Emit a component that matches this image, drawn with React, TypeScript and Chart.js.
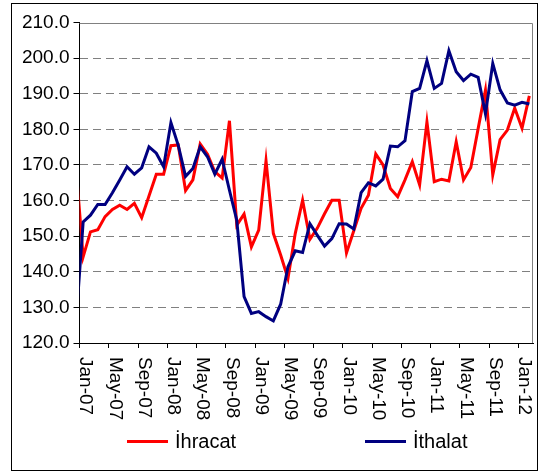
import React, { useEffect, useRef } from 'react';
import { Chart, registerables } from 'chart.js';

Chart.register(...registerables);

// Monthly categories (Dec-06 is only partly visible at the left edge)
const months = [
  'Dec-06',
  'Jan-07', 'Feb-07', 'Mar-07', 'Apr-07', 'May-07', 'Jun-07', 'Jul-07', 'Aug-07', 'Sep-07', 'Oct-07', 'Nov-07', 'Dec-07',
  'Jan-08', 'Feb-08', 'Mar-08', 'Apr-08', 'May-08', 'Jun-08', 'Jul-08', 'Aug-08', 'Sep-08', 'Oct-08', 'Nov-08', 'Dec-08',
  'Jan-09', 'Feb-09', 'Mar-09', 'Apr-09', 'May-09', 'Jun-09', 'Jul-09', 'Aug-09', 'Sep-09', 'Oct-09', 'Nov-09', 'Dec-09',
  'Jan-10', 'Feb-10', 'Mar-10', 'Apr-10', 'May-10', 'Jun-10', 'Jul-10', 'Aug-10', 'Sep-10', 'Oct-10', 'Nov-10', 'Dec-10',
  'Jan-11', 'Feb-11', 'Mar-11', 'Apr-11', 'May-11', 'Jun-11', 'Jul-11', 'Aug-11', 'Sep-11', 'Oct-11', 'Nov-11', 'Dec-11',
  'Jan-12', 'Feb-12',
];

const ihracat = [
  170,
  144.2, 151.2, 151.8, 155.5, 157.5, 158.7, 157.5, 159.2, 155.2, 161.3, 167.4, 167.4,
  175.4, 175.6, 162.8, 165.8, 175.9, 173.0, 168.1, 166.3, 182.4, 153.1, 156.2, 147.0,
  151.7, 171.2, 150.8, 144.7, 138.1, 150.8, 160.1, 149.1, 152.2, 156.3, 160.1, 160.1,
  145.3, 151.5, 157.8, 161.5, 173.1, 170.0, 163.4, 161.1, 165.8, 170.9, 164.4, 182.1,
  165.3, 166.0, 165.5, 176.5, 165.8, 169.3, 180.2, 191.0, 167.2, 177.1, 179.8, 186.0,
  180.3, 189.4,
];

const ithalat = [
  125,
  154.0, 155.9, 158.9, 158.9, 162.2, 165.8, 169.5, 167.4, 169.2, 175.1, 173.3, 169.5,
  181.9, 175.5, 166.8, 169.0, 175.1, 172.3, 167.4, 171.6, 162.9, 154.5, 133.0, 128.3,
  128.8, 127.4, 126.2, 130.9, 141.4, 145.9, 145.4, 153.5, 150.3, 147.2, 149.3, 153.5,
  153.4, 152.0, 162.2, 165.0, 164.1, 166.0, 175.3, 175.1, 176.8, 190.6, 191.5, 199.3,
  191.5, 192.9, 202.1, 196.2, 193.7, 195.5, 194.6, 184.4, 198.5, 191.1, 187.4, 186.8,
  187.6, 187.1,
];

const xTickLabels = [
  'Jan-07', 'May-07', 'Sep-07', 'Jan-08', 'May-08', 'Sep-08', 'Jan-09', 'May-09',
  'Sep-09', 'Jan-10', 'May-10', 'Sep-10', 'Jan-11', 'May-11', 'Sep-11', 'Jan-12',
];

const seriesNames = ['İhracat', 'İthalat'];
const seriesColors = ['#FF0000', '#000080'];

const yMin = 120;
const yMax = 210;
const yStep = 10;

const FONT = "'Liberation Sans', Arial, sans-serif";

const framePlugin = {
  id: 'plotFrame',
  beforeDatasetsDraw(chart: any) {
    const { ctx, chartArea } = chart;
    const { left, top, right, bottom } = chartArea;
    ctx.save();
    ctx.strokeStyle = '#808080';
    ctx.lineWidth = 1;
    ctx.beginPath();
    const t = Math.round(top) + 0.5;
    const r = Math.round(right) - 0.5;
    ctx.moveTo(left, t);
    ctx.lineTo(r, t);
    ctx.lineTo(r, bottom);
    ctx.stroke();
    ctx.restore();
  },
};

export default function App() {
  const canvasRef = useRef<HTMLCanvasElement | null>(null);

  useEffect(() => {
    const canvas = canvasRef.current;
    if (!canvas) return;
    const firstIdx = months.indexOf('Jan-07');
    const tickValues = xTickLabels.map((l) => months.indexOf(l) - 0.5);
    const toPoints = (arr: number[]) => arr.map((v, i) => ({ x: i, y: v }));

    const chart = new Chart(canvas, {
      type: 'line',
      data: {
        datasets: [
          {
            label: seriesNames[0],
            data: toPoints(ihracat),
            borderColor: seriesColors[0],
            backgroundColor: seriesColors[0],
            borderWidth: 3,
            pointRadius: 0,
            tension: 0,
            clip: 0,
            order: 1,
          },
          {
            label: seriesNames[1],
            data: toPoints(ithalat),
            borderColor: seriesColors[1],
            backgroundColor: seriesColors[1],
            borderWidth: 3,
            pointRadius: 0,
            tension: 0,
            clip: 0,
            order: 0,
          },
        ],
      },
      options: {
        animation: false,
        responsive: false,
        events: [],
        layout: { padding: { left: 0, right: 4, top: 18.5, bottom: 47 } },
        plugins: {
          legend: { display: false },
          tooltip: { enabled: false },
        },
        scales: {
          x: {
            type: 'linear',
            min: firstIdx - 0.5,
            max: months.length - 0.5,
            afterBuildTicks: (s: any) => {
              s.ticks = tickValues.map((v) => ({ value: v }));
            },
            afterFit: (s: any) => {
              s.height = 80;
              s._getXAxisLabelAlignment = () => 'left';
            },
            ticks: {
              autoSkip: false,
              minRotation: -90,
              maxRotation: -90,
              padding: 9,
              labelOffset: 6,
              color: '#000',
              font: { family: FONT, size: 19 },
              callback: (_v: any, i: number) => xTickLabels[i],
            },
            grid: {
              drawOnChartArea: false,
              tickLength: 5,
              tickColor: '#000',
            },
            border: { color: '#000', width: 1 },
          },
          y: {
            min: yMin,
            max: yMax,
            afterFit: (s: any) => {
              s.width = 67.5;
            },
            ticks: {
              stepSize: yStep,
              padding: 4,
              color: '#000',
              font: { family: FONT, size: 19 },
              callback: (v: any) => Number(v).toFixed(1),
            },
            grid: {
              color: (c: any) =>
                c.tick && (c.tick.value === yMin || c.tick.value === yMax)
                  ? 'rgba(0,0,0,0)'
                  : '#808080',
              lineWidth: 1,
              tickLength: 6,
              tickColor: '#000',
            },
            border: { color: '#000', width: 1, dash: [8, 5] },
          },
        },
      },
      plugins: [framePlugin],
    });
    return () => chart.destroy();
  }, []);

  const legendItem = (name: string, color: string, left: number) => (
    <div
      key={name}
      style={{
        position: 'absolute',
        left,
        top: 425,
        height: 24,
        display: 'flex',
        alignItems: 'center',
        fontFamily: FONT,
        fontSize: 20,
        color: '#000',
        whiteSpace: 'nowrap',
      }}
    >
      <span style={{ display: 'inline-block', width: 41, height: 3, background: color }} />
      <span style={{ marginLeft: 7 }}>{name}</span>
    </div>
  );

  return (
    <div
      style={{
        position: 'absolute',
        left: 11,
        top: 3,
        width: 525,
        height: 466,
        border: '1px solid #000',
        background: '#fff',
      }}
    >
      <canvas ref={canvasRef} width={525} height={466} style={{ width: 525, height: 466, display: 'block' }} />
      {legendItem(seriesNames[0], seriesColors[0], 115)}
      {legendItem(seriesNames[1], seriesColors[1], 353)}
    </div>
  );
}
